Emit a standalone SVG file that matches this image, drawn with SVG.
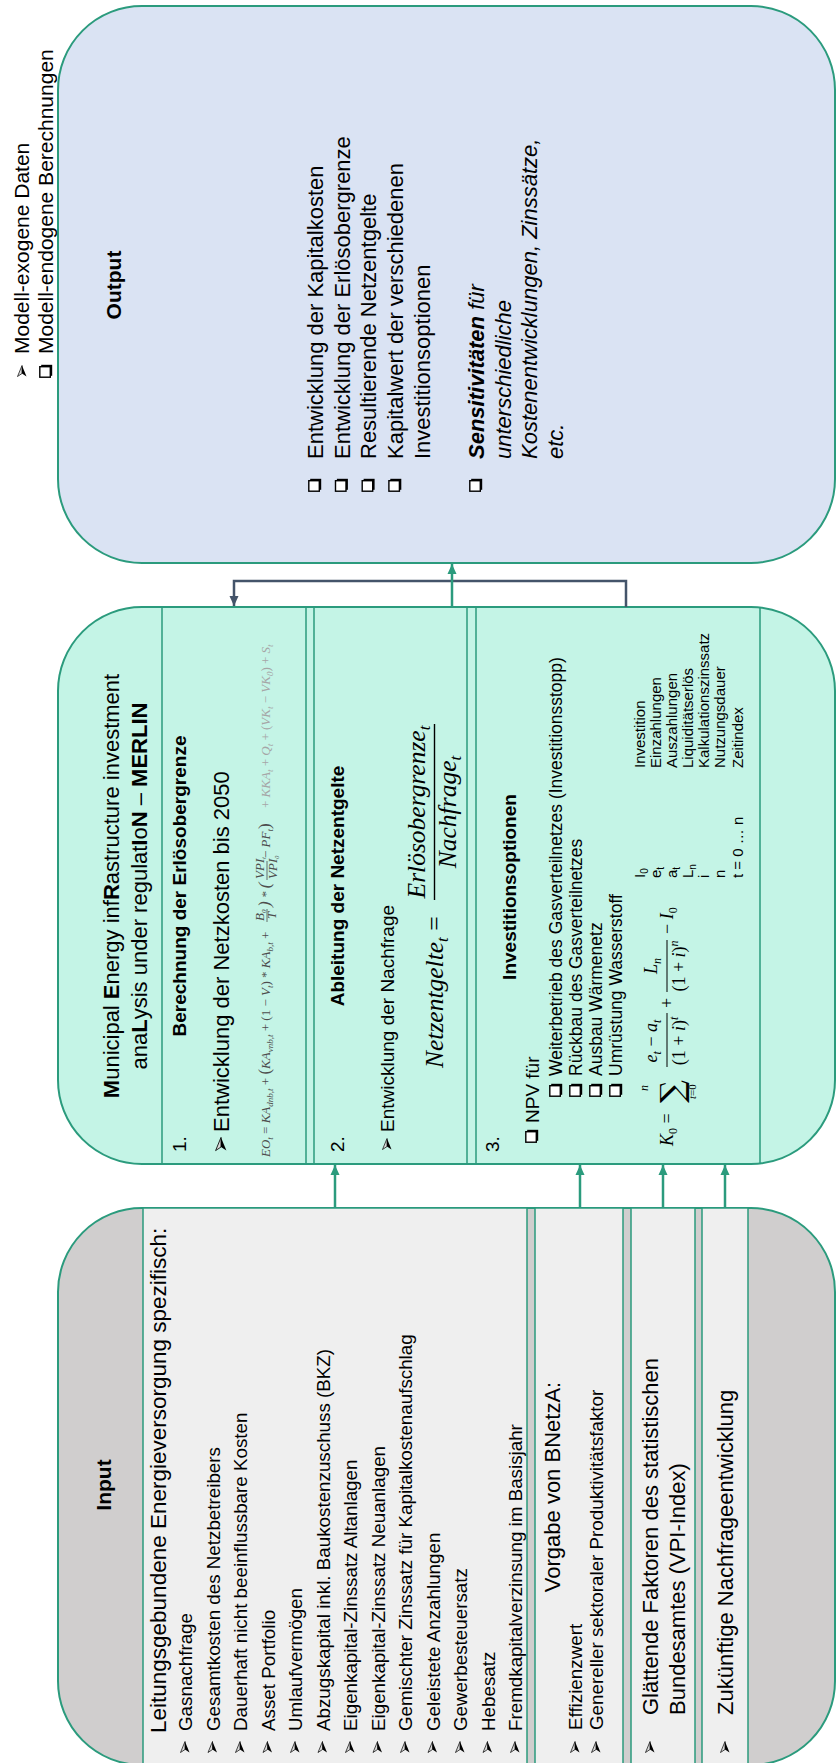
<svg xmlns="http://www.w3.org/2000/svg" width="836" height="1763" viewBox="0 0 836 1763">
<defs>
<style>
text{font-family:"Liberation Sans",Arial,sans-serif;fill:#000}
.t22{font-size:22px}
.t21{font-size:21px}
.t19{font-size:19px}
.item{font-size:18.8px}
.subitem{font-size:17.5px}
.b{font-weight:bold}
.box{stroke:#2b9b7d;stroke-width:2}
.cell{fill:#efefef;stroke:#2b9b7d;stroke-width:1.5}
.rule{stroke:#2b9b7d;stroke-width:1.5;fill:none}
.math{font-family:"Liberation Serif","Times New Roman",serif;font-style:italic}
.up{font-style:normal}
.eo{font-family:"Liberation Serif","Times New Roman",serif;font-style:italic;font-size:13px;fill:#4d4d4d}
.eo2{fill:#a6a6a6}
.var{font-family:Lato,"Liberation Sans",sans-serif;font-size:15px}
.conn{fill:none;stroke-width:2.5}
.teal{stroke:#2b9b7d}
.slate{stroke:#44546a}
</style>
<marker id="arrowTeal" viewBox="0 0 10 10" refX="10" refY="5" markerWidth="10" markerHeight="10" markerUnits="userSpaceOnUse" orient="auto">
<path d="M0,0.5 L10,5 L0,9.5 z" fill="#2b9b7d"/>
</marker>
<marker id="arrowSlate" viewBox="0 0 10 10" refX="10" refY="5" markerWidth="10" markerHeight="10" markerUnits="userSpaceOnUse" orient="auto">
<path d="M0,0.5 L10,5 L0,9.5 z" fill="#44546a"/>
</marker>
<!-- list bullets: 3D arrowhead and shadowed box, centred on (0,0) -->
<g id="arrowBullet">
<path d="M-5.5,-4.5 L5.5,0 L-2.5,0 Z" fill="#d9d9d9" stroke="#000" stroke-width="0.7" stroke-linejoin="round"/>
<path d="M-2.5,0 L5.5,0 L-5.5,4.5 Z" fill="#000"/>
</g>
<g id="boxBullet">
<rect x="-4.8" y="-4.8" width="11" height="11" fill="#000"/>
<rect x="-6.2" y="-6.2" width="10.5" height="10.5" fill="#fff" stroke="#000" stroke-width="1.4"/>
</g>
</defs>
<rect width="836" height="1763" fill="#fff"/>

<!-- landscape layout, turned a quarter to portrait -->
<g id="sheet" transform="translate(0 1763) rotate(-90)">

<!-- Input -->
<g id="input">
<rect class="box" x="-2" y="58" width="557" height="777" rx="84" fill="#d0cece"/>
<rect class="cell" x="-2" y="143" width="557" height="384"/>
<rect class="cell" x="-2" y="535" width="557" height="88"/>
<rect class="cell" x="-2" y="631" width="557" height="64"/>
<rect class="cell" x="-2" y="702" width="557" height="46"/>
<text class="t21 b" x="278" y="111" text-anchor="middle">Input</text>
<text x="30" y="166" style="font-size:22.5px">Leitungsgebundene Energieversorgung spezifisch:</text>
<g class="item">
<use href="#arrowBullet" x="16" y="185"/><text x="32" y="192">Gasnachfrage</text>
<use href="#arrowBullet" x="16" y="212.5"/><text x="32" y="219.5">Gesamtkosten des Netzbetreibers</text>
<use href="#arrowBullet" x="16" y="240"/><text x="32" y="247">Dauerhaft nicht beeinflussbare Kosten</text>
<use href="#arrowBullet" x="16" y="267.5"/><text x="32" y="274.5">Asset Portfolio</text>
<use href="#arrowBullet" x="16" y="295"/><text x="32" y="302">Umlaufvermögen</text>
<use href="#arrowBullet" x="16" y="322.5"/><text x="32" y="329.5">Abzugskapital inkl. Baukostenzuschuss (BKZ)</text>
<use href="#arrowBullet" x="16" y="350"/><text x="32" y="357">Eigenkapital-Zinssatz Altanlagen</text>
<use href="#arrowBullet" x="16" y="377.5"/><text x="32" y="384.5">Eigenkapital-Zinssatz Neuanlagen</text>
<use href="#arrowBullet" x="16" y="405"/><text x="32" y="412">Gemischter Zinssatz für Kapitalkostenaufschlag</text>
<use href="#arrowBullet" x="16" y="432.5"/><text x="32" y="439.5">Geleistete Anzahlungen</text>
<use href="#arrowBullet" x="16" y="460"/><text x="32" y="467">Gewerbesteuersatz</text>
<use href="#arrowBullet" x="16" y="487.5"/><text x="32" y="494.5">Hebesatz</text>
<use href="#arrowBullet" x="16" y="515"/><text x="32" y="522">Fremdkapitalverzinsung im Basisjahr</text>
</g>
<text class="t22" x="276" y="560" text-anchor="middle">Vorgabe von BNetzA:</text>
<g class="item">
<use href="#arrowBullet" x="16" y="575"/><text x="33" y="582">Effizienzwert</text>
<use href="#arrowBullet" x="16" y="596"/><text x="33" y="603">Genereller sektoraler Produktivitätsfaktor</text>
</g>
<use href="#arrowBullet" x="16" y="650"/>
<text class="t22" x="48" y="658">Glättende Faktoren des statistischen</text>
<text class="t22" x="48" y="685">Bundesamtes (VPI-Index)</text>
<use href="#arrowBullet" x="16" y="725"/>
<text class="t22" x="48" y="733">Zukünftige Nachfrageentwicklung</text>
</g>

<!-- MERLIN model -->
<g id="merlin">
<rect class="box" x="599" y="58" width="557" height="777" rx="84" fill="#c4f4e6"/>
<path class="rule" d="M599,162 H1156 M599,306 H1156 M599,314 H1156 M599,467 H1156 M599,476 H1156 M599,760 H1156"/>
<text class="t22" x="877" y="119" text-anchor="middle"><tspan class="b">M</tspan>unicipal <tspan class="b">E</tspan>nergy inf<tspan class="b">R</tspan>astructure investment</text>
<text class="t22" x="877" y="147" text-anchor="middle">ana<tspan class="b">L</tspan>ysis under regulat<tspan class="b">I</tspan>o<tspan class="b">N</tspan> – <tspan class="b">MERLIN</tspan></text>

<text class="t19" x="611" y="186">1.</text>
<text class="t19 b" x="877" y="186" text-anchor="middle">Berechnung der Erlösobergrenze</text>
<use href="#arrowBullet" transform="translate(619 221) scale(1.2)"/>
<text class="t22" x="631" y="229">Entwicklung der Netzkosten bis 2050</text>
<text class="eo" x="606" y="270">EO<tspan dy="3" font-size="9">t</tspan><tspan dy="-3" class="up"> = </tspan>KA<tspan dy="3" font-size="9">dnb,t</tspan><tspan dy="-3" class="up"> + </tspan><tspan class="up" font-size="17">(</tspan>KA<tspan dy="3" font-size="9">vnb,t</tspan><tspan dy="-3" class="up"> + (1 − </tspan>V<tspan dy="3" font-size="9">t</tspan><tspan dy="-3" class="up">) * </tspan>KA<tspan dy="3" font-size="9">b,t</tspan><tspan class="up" dy="-3"> +</tspan></text>
<text class="eo" x="842" y="264" font-size="9">B<tspan dy="2" font-size="7">0</tspan></text>
<path d="M841,267 H854" stroke="#4d4d4d" stroke-width="0.8"/>
<text class="eo" x="844" y="276" font-size="9">T</text>
<text class="eo up" x="856" y="270"><tspan font-size="17">)</tspan> * <tspan font-size="17">(</tspan></text>
<text class="eo" x="884" y="264" font-size="8">VPI<tspan dy="2" font-size="6">t</tspan></text>
<path d="M883,267 H902" stroke="#4d4d4d" stroke-width="0.8"/>
<text class="eo" x="884" y="277" font-size="8">VPI<tspan dy="2" font-size="6">0</tspan></text>
<text class="eo" x="905" y="270"><tspan class="up"> − </tspan>PF<tspan dy="3" font-size="9">t</tspan><tspan dy="-3" class="up" font-size="17">)</tspan></text>
<text class="eo eo2" x="955" y="270"><tspan class="up">+ </tspan>KKA<tspan dy="3" font-size="9">t</tspan><tspan dy="-3" class="up"> + </tspan>Q<tspan dy="3" font-size="9">t</tspan><tspan dy="-3" class="up"> + (</tspan>VK<tspan dy="3" font-size="9">t</tspan><tspan dy="-3" class="up"> − </tspan>VK<tspan dy="3" font-size="9">0</tspan><tspan dy="-3" class="up">) + </tspan>S<tspan dy="3" font-size="9">t</tspan></text>

<text class="t19" x="611" y="344">2.</text>
<text class="t19 b" x="877" y="344" text-anchor="middle">Ableitung der Netzentgelte</text>
<use href="#arrowBullet" x="619" y="387"/>
<text class="t19" x="631" y="394">Entwicklung der Nachfrage</text>
<text class="math" x="695" y="443" font-size="25.5">Netzentgelte<tspan dy="5" font-size="17">t</tspan><tspan dy="-5" class="up"> =</tspan></text>
<text class="math" x="951" y="425" font-size="25.5" text-anchor="middle">Erlösobergrenze<tspan dy="5" font-size="17">t</tspan></text>
<path d="M863,434.5 H1039" stroke="#000" stroke-width="1.4"/>
<text class="math" x="951" y="456" font-size="25.5" text-anchor="middle">Nachfrage<tspan dy="5" font-size="17">t</tspan></text>

<text class="t19" x="611" y="499">3.</text>
<text class="t19 b" x="876" y="516" text-anchor="middle">Investitionsoptionen</text>
<use href="#boxBullet" x="627" y="532"/>
<text class="t19" x="640" y="539">NPV für</text>
<g class="subitem">
<use href="#boxBullet" x="673" y="556"/><text x="687" y="562">Weiterbetrieb des Gasverteilnetzes (Investitionsstopp)</text>
<use href="#boxBullet" x="673" y="576"/><text x="687" y="582">Rückbau des Gasverteilnetzes</text>
<use href="#boxBullet" x="673" y="596"/><text x="687" y="602">Ausbau Wärmenetz</text>
<use href="#boxBullet" x="673" y="616"/><text x="687" y="622">Umrüstung Wasserstoff</text>
</g>
<text class="math" x="617" y="673" font-size="18">K<tspan dy="4" font-size="12" class="up">0</tspan><tspan dy="-4" class="up"> =</tspan></text>
<text class="up" x="660" y="683" style="font-family:'DejaVu Serif',serif;font-size:32px">∑</text>
<text class="math" x="672" y="648" font-size="12">n</text>
<text class="math" x="664" y="696" font-size="11">t<tspan class="up">=0</tspan></text>
<text class="math" x="722" y="657" font-size="18" text-anchor="middle">e<tspan dy="4" font-size="12">t</tspan><tspan dy="-4" class="up"> − </tspan>a<tspan dy="4" font-size="12">t</tspan></text>
<path d="M696,667 H750" stroke="#000" stroke-width="1"/>
<text class="math" x="722" y="685" font-size="18" text-anchor="middle"><tspan class="up">(1 + </tspan>i<tspan class="up">)</tspan><tspan dy="-7" font-size="12">t</tspan></text>
<text class="math up" x="755" y="673" font-size="18">+</text>
<text class="math" x="797" y="657" font-size="18" text-anchor="middle">L<tspan dy="4" font-size="12">n</tspan></text>
<path d="M771,667 H823" stroke="#000" stroke-width="1"/>
<text class="math" x="797" y="685" font-size="18" text-anchor="middle"><tspan class="up">(1 + </tspan>i<tspan class="up">)</tspan><tspan dy="-7" font-size="12">n</tspan></text>
<text class="math" x="829" y="673" font-size="18"><tspan class="up">− </tspan>I<tspan dy="4" font-size="12" class="up">0</tspan></text>
<g class="var">
<text x="885" y="645">I<tspan dy="3" font-size="10">0</tspan></text><text x="995" y="645">Investition</text>
<text x="885" y="661">e<tspan dy="3" font-size="10">t</tspan></text><text x="995" y="661">Einzahlungen</text>
<text x="885" y="677">a<tspan dy="3" font-size="10">t</tspan></text><text x="995" y="677">Auszahlungen</text>
<text x="885" y="693">L<tspan dy="3" font-size="10">n</tspan></text><text x="995" y="693">Liquiditätserlös</text>
<text x="885" y="709">i</text><text x="995" y="709">Kalkulationszinssatz</text>
<text x="885" y="725">n</text><text x="995" y="725">Nutzungsdauer</text>
<text x="885" y="743">t = 0 … n</text><text x="995" y="743">Zeitindex</text>
</g>
</g>

<!-- Output -->
<g id="output">
<rect class="box" x="1200" y="58" width="557" height="777" rx="84" fill="#dae3f3"/>
<text class="t21 b" x="1478" y="121" text-anchor="middle">Output</text>
<g class="t22">
<use href="#boxBullet" x="1278" y="315"/><text x="1304" y="323">Entwicklung der Kapitalkosten</text>
<use href="#boxBullet" x="1278" y="341.7"/><text x="1304" y="349.7">Entwicklung der Erlösobergrenze</text>
<use href="#boxBullet" x="1278" y="368.4"/><text x="1304" y="376.4">Resultierende Netzentgelte</text>
<use href="#boxBullet" x="1278" y="395.1"/><text x="1304" y="403.1">Kapitalwert der verschiedenen</text>
<text x="1304" y="429.8">Investitionsoptionen</text>
<use href="#boxBullet" x="1278" y="476"/><text x="1304" y="484" font-style="italic"><tspan font-weight="bold">Sensitivitäten</tspan> für</text>
<text x="1304" y="511" font-style="italic">unterschiedliche</text>
<text x="1304" y="537" font-style="italic">Kostenentwicklungen, Zinssätze,</text>
<text x="1304" y="563" font-style="italic">etc.</text>
</g>
</g>

<!-- legend -->
<g id="legend" class="t21">
<use href="#arrowBullet" x="1392" y="22"/><text x="1409" y="29">Modell-exogene Daten</text>
<use href="#boxBullet" x="1392" y="46"/><text x="1409" y="53">Modell-endogene Berechnungen</text>
</g>

<!-- connectors -->
<g id="connectors">
<path class="conn slate" d="M1156,626 H1182 V234 H1157" marker-end="url(#arrowSlate)"/>
<path class="conn teal" d="M1156,452 H1199" marker-end="url(#arrowTeal)"/>
<path class="conn teal" d="M555,335 H598" marker-end="url(#arrowTeal)"/>
<path class="conn teal" d="M555,580 H598" marker-end="url(#arrowTeal)"/>
<path class="conn teal" d="M555,663 H598" marker-end="url(#arrowTeal)"/>
<path class="conn teal" d="M555,725 H598" marker-end="url(#arrowTeal)"/>
</g>
</g>
</svg>
